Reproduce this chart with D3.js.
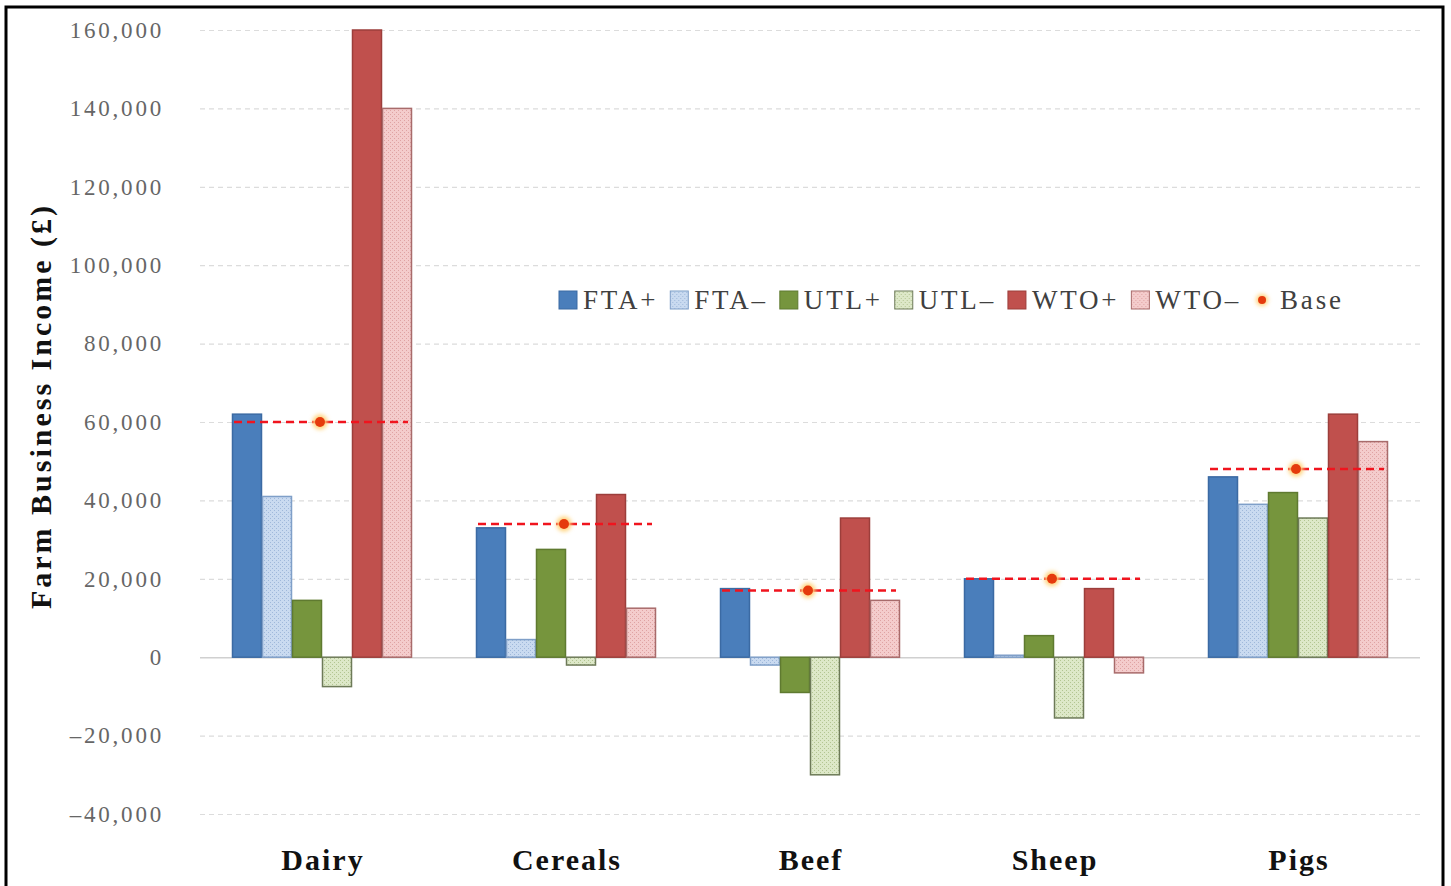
<!DOCTYPE html>
<html>
<head>
<meta charset="utf-8">
<script src="https://cdn.jsdelivr.net/npm/d3@7/dist/d3.min.js"></script>
<style>
  html, body { margin: 0; padding: 0; background: #fff; }
  svg { display: block; }
</style>
</head>
<body>
<svg id="chart" width="1451" height="886"></svg>
<script>
// Farm Business Income by farm type under trade scenarios
const categories = ["Dairy", "Cereals", "Beef", "Sheep", "Pigs"];
const seriesNames = ["FTA+", "FTA–", "UTL+", "UTL–", "WTO+", "WTO–"];

const ftaPlus  = [62000, 33000, 17500, 20000, 46000];
const ftaMinus = [41000, 4500, -2000, 500, 39000];
const utlPlus  = [14500, 27500, -9000, 5500, 42000];
const utlMinus = [-7500, -2000, -30000, -15500, 35500];
const wtoPlus  = [160000, 41500, 35500, 17500, 62000];
const wtoMinus = [140000, 12500, 14500, -4000, 55000];
const base     = [60000, 34000, 17000, 20000, 48000];

const yTicks = [-40000, -20000, 0, 20000, 40000, 60000, 80000, 100000, 120000, 140000, 160000];

const seriesValues = [ftaPlus, ftaMinus, utlPlus, utlMinus, wtoPlus, wtoMinus];

const svg = d3.select("#chart");
const serif = "'Liberation Serif', 'DejaVu Serif', serif";

// outer frame
svg.append("rect")
  .attr("x", 6).attr("y", 7).attr("width", 1437).attr("height", 900)
  .attr("fill", "#fff").attr("stroke", "#000").attr("stroke-width", 3);

// fill styles: solid or dotted light pattern
const styles = [
  { fill: "#4a7ebb", stroke: "#3b6aa3", pattern: null },
  { fill: "#c9daf0", stroke: "#7f9fc8", pattern: "#9fb8da" },
  { fill: "#76953d", stroke: "#5f7a30", pattern: null },
  { fill: "#dde8c8", stroke: "#6d7a58", pattern: "#b3c592" },
  { fill: "#c0504d", stroke: "#9c3e3b", pattern: null },
  { fill: "#f4cccc", stroke: "#a86b6b", pattern: "#dfa3a3" }
];

const defs = svg.append("defs");
styles.forEach((s, i) => {
  if (!s.pattern) return;
  const p = defs.append("pattern")
    .attr("id", "pat" + i)
    .attr("patternUnits", "userSpaceOnUse")
    .attr("width", 4).attr("height", 4);
  p.append("rect").attr("width", 4).attr("height", 4).attr("fill", s.fill);
  p.append("rect").attr("x", 0).attr("y", 0).attr("width", 1).attr("height", 1).attr("fill", s.pattern);
  p.append("rect").attr("x", 2).attr("y", 2).attr("width", 1).attr("height", 1).attr("fill", s.pattern);
});
const glow = defs.append("filter").attr("id", "glow")
  .attr("x", "-100%").attr("y", "-100%").attr("width", "300%").attr("height", "300%");
glow.append("feGaussianBlur").attr("stdDeviation", 2);

function fillOf(i) { return styles[i].pattern ? `url(#pat${i})` : styles[i].fill; }

// scales
const y = d3.scaleLinear().domain([-40000, 160000]).range([814, 30]);
const x0 = d3.scaleBand().domain(categories).range([200, 1420]).paddingInner(0).paddingOuter(0);
const x1 = d3.scaleBand().domain(seriesNames).range([32, x0.bandwidth() - 32]).padding(0);

// gridlines and tick labels
const yAxis = d3.axisLeft(y).tickValues(yTicks).tickSize(-1220).tickPadding(36)
  .tickFormat(d => d3.format(",")(d).replace("−", "–"));
const gAxis = svg.append("g").attr("transform", "translate(200,0)").call(yAxis);
gAxis.select(".domain").remove();
gAxis.selectAll(".tick line")
  .attr("stroke", d => d === 0 ? "#d0d0d0" : "#dcdcdc")
  .attr("stroke-width", d => d === 0 ? 1.5 : 1.2)
  .attr("stroke-dasharray", d => d === 0 ? null : "5,4");
gAxis.selectAll(".tick text")
  .attr("font-family", serif).attr("font-size", 23).attr("fill", "#666")
  .attr("letter-spacing", 2.8);

// bars
const groups = svg.append("g").selectAll("g")
  .data(categories).join("g")
  .attr("transform", d => `translate(${x0(d)},0)`);

groups.selectAll("rect")
  .data((c, ci) => seriesNames.map((s, si) => ({ s, si, v: seriesValues[si][ci] })))
  .join("rect")
  .attr("x", d => x1(d.s) + 0.5)
  .attr("width", x1.bandwidth() - 1)
  .attr("y", d => y(Math.max(0, d.v)))
  .attr("height", d => Math.abs(y(d.v) - y(0)))
  .attr("fill", d => fillOf(d.si))
  .attr("stroke", d => styles[d.si].stroke)
  .attr("stroke-width", 1.5);

// base reference: dashed line with marker
const baseG = svg.append("g");
categories.forEach((c, i) => {
  const cx = x0(c) + x0.bandwidth() / 2;
  baseG.append("line")
    .attr("x1", x0(c) + x1(seriesNames[0]) + 2)
    .attr("x2", x0(c) + x1(seriesNames[5]) + x1.bandwidth() - 4)
    .attr("y1", y(base[i])).attr("y2", y(base[i]))
    .attr("stroke", "#f0141e").attr("stroke-width", 2.5)
    .attr("stroke-dasharray", "8,5");
  baseG.append("circle").attr("cx", cx - 2).attr("cy", y(base[i])).attr("r", 7.5)
    .attr("fill", "#ffd27a").attr("filter", "url(#glow)");
  baseG.append("circle").attr("cx", cx - 2).attr("cy", y(base[i])).attr("r", 5)
    .attr("fill", "#e53a0c");
});

// category labels
svg.append("g").selectAll("text")
  .data(categories).join("text")
  .attr("x", d => x0(d) + x0.bandwidth() / 2 + 1)
  .attr("y", 870)
  .attr("text-anchor", "middle")
  .attr("font-family", serif).attr("font-weight", "bold").attr("font-size", 30)
  .attr("letter-spacing", 2)
  .attr("fill", "#111")
  .text(d => d);

// y axis title
svg.append("text")
  .attr("transform", "translate(51,406) rotate(-90)")
  .attr("text-anchor", "middle")
  .attr("font-family", serif).attr("font-weight", "bold").attr("font-size", 30)
  .attr("letter-spacing", 3)
  .attr("fill", "#111")
  .text("Farm Business Income (£)");

// legend
const legend = svg.append("g").attr("transform", "translate(559,300)");
let lx = 0;
seriesNames.concat(["Base"]).forEach((name, i) => {
  const item = legend.append("g").attr("transform", `translate(${lx},0)`);
  if (i < 6) {
    item.append("rect").attr("x", 0).attr("y", -9).attr("width", 18).attr("height", 18)
      .attr("fill", fillOf(i)).attr("stroke", styles[i].stroke).attr("stroke-width", 1);
  } else {
    item.append("circle").attr("cx", 9).attr("cy", 0).attr("r", 6)
      .attr("fill", "#ffd27a").attr("filter", "url(#glow)");
    item.append("circle").attr("cx", 9).attr("cy", 0).attr("r", 4).attr("fill", "#e53a0c");
  }
  const t = item.append("text")
    .attr("x", i < 6 ? 24 : 27).attr("y", 9)
    .attr("font-family", serif).attr("font-size", 27).attr("fill", "#404040")
    .attr("letter-spacing", 2.8)
    .text(name);
  lx += (i < 6 ? 24 : 27) + t.node().getComputedTextLength() + 12;
});
</script>
</body>
</html>
